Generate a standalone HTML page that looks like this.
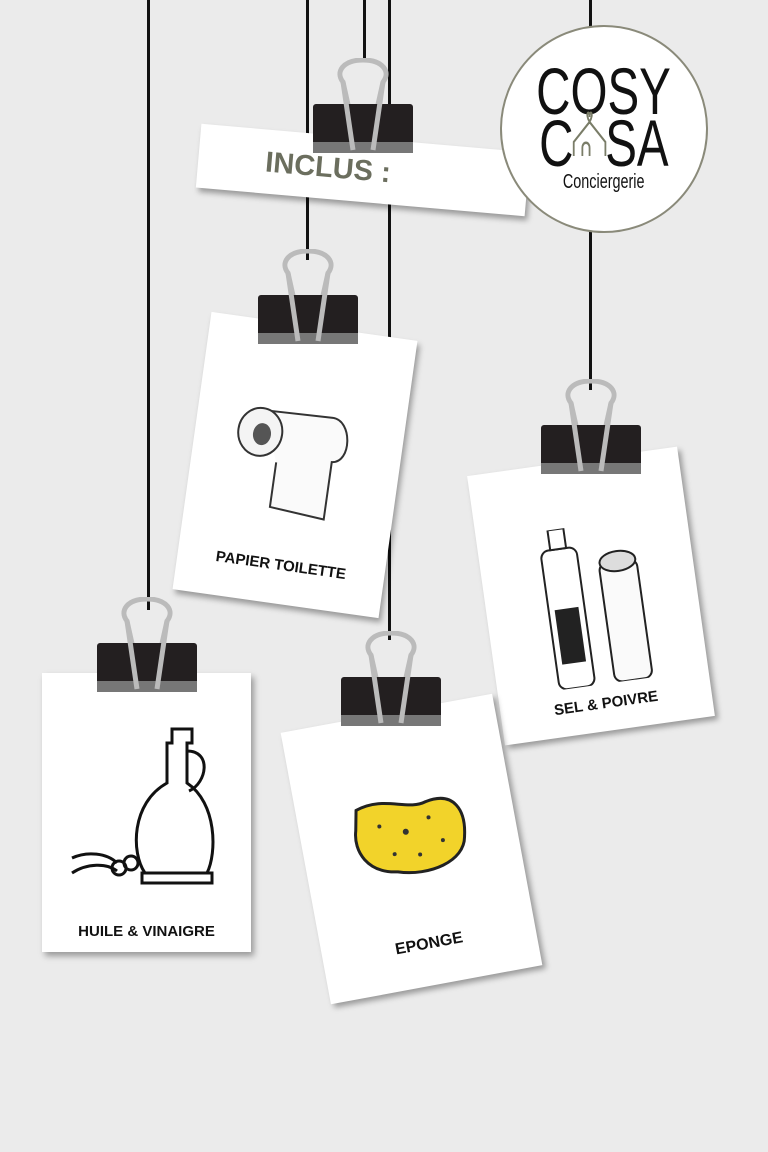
<!DOCTYPE html>
<html><head><meta charset="utf-8"><style>
body{margin:0;width:768px;height:1152px;background:#ebebeb;position:relative;overflow:hidden;font-family:"Liberation Sans",sans-serif}
.line{position:absolute;top:0;width:3px;background:#111}
.card{position:absolute;background:#fff;box-shadow:3px 4px 6px rgba(0,0,0,.35)}
.clip{position:absolute;width:100px;height:95px}
.lbl{position:absolute;left:0;right:0;text-align:center;font-weight:bold;font-size:15px;color:#111}
.cond{display:inline-block;transform:scaleX(0.72);transform-origin:center}
</style></head><body>
<div class="line" style="left:147px;height:610px"></div>
<div class="line" style="left:306px;height:260px"></div>
<div class="line" style="left:363px;height:62px"></div>
<div class="line" style="left:388px;height:640px"></div>
<div class="line" style="left:589px;height:390px"></div>

<svg width="0" height="0" style="position:absolute"><defs>
<g id="clp"><path d="M38 60 L30 24 C22 14 30 2 50 2 C70 2 78 14 70 24 L62 60" fill="none" stroke="#bbb" stroke-width="5"/>
<rect x="0" y="46" width="100" height="50" rx="3" fill="#231f20"/>
<rect x="0" y="84" width="100" height="11" fill="#777"/>
<path d="M30 24 L40 92 M70 24 L60 92" stroke="#bbb" stroke-width="5"/></g></defs></svg>

<!-- INCLUS banner -->
<div class="card" style="left:198px;top:138px;width:330px;height:64px;transform:rotate(5deg)">
<div style="position:absolute;left:0;right:0;top:17px;text-align:center;font-weight:bold;font-size:29px;color:#6b6e5e;padding-right:70px">INCLUS :</div></div>
<svg class="clip" style="left:313px;top:58px"><use href="#clp"/></svg>

<!-- logo -->
<div style="position:absolute;left:500px;top:25px;width:208px;height:208px;border-radius:50%;background:#fff;border:2px solid #8a8a7a;box-sizing:border-box;text-align:center">
<div style="font-size:66px;line-height:52px;margin-top:38px;color:#111"><span class="cond">COSY</span></div>
<div style="font-size:66px;line-height:52px;color:#111"><span class="cond">C<span style="color:#fff;position:relative">A<svg style="position:absolute;left:-2px;top:4px" width="48" height="48"><path d="M2 46 V32 L24 12 L46 32 V46 M14 46 V38 C14 31 24 31 24 38 V46 M24 12 C17 3 24 -1 24 7 C24 -1 31 3 24 12" fill="none" stroke="#7a7d68" stroke-width="2.5"/></svg></span>SA</span></div>
<div style="font-size:20px;color:#111;margin-top:2px"><span class="cond">Conciergerie</span></div></div>

<!-- Papier toilette -->
<div class="card" style="left:191px;top:325px;width:208px;height:280px;transform:rotate(8deg)">
<svg style="position:absolute;left:40px;top:70px" width="130" height="130" viewBox="0 0 130 130"><path d="M25 20 L95 18 C115 18 120 60 100 62 L100 120 L45 115 L45 70" fill="#fafafa" stroke="#333" stroke-width="2"/><ellipse cx="25" cy="42" rx="22" ry="24" fill="#f4f4f4" stroke="#333" stroke-width="2"/><ellipse cx="27" cy="44" rx="9" ry="11" fill="#555"/></svg>
<div class="lbl" style="top:233px">PAPIER TOILETTE</div></div>
<svg class="clip" style="left:258px;top:249px"><use href="#clp"/></svg>

<!-- Sel & poivre -->
<div class="card" style="left:485px;top:460px;width:212px;height:272px;transform:rotate(-8deg)">
<svg style="position:absolute;left:50px;top:65px" width="120" height="160" viewBox="0 0 120 160"><rect x="12" y="20" width="36" height="140" rx="8" fill="#fff" stroke="#222" stroke-width="2"/><rect x="18" y="80" width="24" height="55" fill="#222"/><rect x="22" y="0" width="16" height="20" fill="#fff" stroke="#222" stroke-width="2"/><rect x="68" y="40" width="38" height="120" rx="8" fill="#fafafa" stroke="#222" stroke-width="2"/><ellipse cx="87" cy="40" rx="18" ry="10" fill="#ddd" stroke="#222" stroke-width="2"/></svg>
<div class="lbl" style="top:236px">SEL &amp; POIVRE</div></div>
<svg class="clip" style="left:541px;top:379px"><use href="#clp"/></svg>

<!-- Huile -->
<div class="card" style="left:42px;top:673px;width:209px;height:279px">
<svg style="position:absolute;left:25px;top:50px" width="170" height="170" viewBox="0 0 170 170"><path d="M105 6 L125 6 V20 H120 V60 C150 80 150 130 140 150 H78 C64 130 64 80 100 60 V20 H105 Z M120 28 C145 28 140 60 122 68" fill="none" stroke="#111" stroke-width="3"/><rect x="75" y="150" width="70" height="10" fill="none" stroke="#111" stroke-width="3"/><path d="M5 150 C20 140 40 140 50 148 M5 135 C20 128 40 130 50 140" fill="none" stroke="#111" stroke-width="3"/><circle cx="52" cy="145" r="7" fill="none" stroke="#111" stroke-width="3"/><circle cx="64" cy="140" r="7" fill="none" stroke="#111" stroke-width="3"/></svg>
<div class="lbl" style="top:250px">HUILE &amp; VINAIGRE</div></div>
<svg class="clip" style="left:97px;top:597px"><use href="#clp"/></svg>

<!-- Eponge -->
<div class="card" style="left:304px;top:711px;width:215px;height:276px;transform:rotate(-10.5deg)">
<svg style="position:absolute;left:50px;top:80px" width="120" height="90" viewBox="0 0 120 90"><path d="M10 10 C40 0 60 20 80 14 C110 8 118 30 112 55 C108 80 70 88 40 78 C10 74 0 50 6 30 Z" fill="#f2d32a" stroke="#222" stroke-width="3"/><g fill="#333"><circle cx="30" cy="30" r="2"/><circle cx="55" cy="40" r="3"/><circle cx="80" cy="30" r="2"/><circle cx="90" cy="55" r="2"/><circle cx="40" cy="60" r="2"/><circle cx="65" cy="65" r="2"/></g></svg>
<div class="lbl" style="top:226px;font-size:16px">EPONGE</div></div>
<svg class="clip" style="left:341px;top:631px"><use href="#clp"/></svg>
</body></html>
